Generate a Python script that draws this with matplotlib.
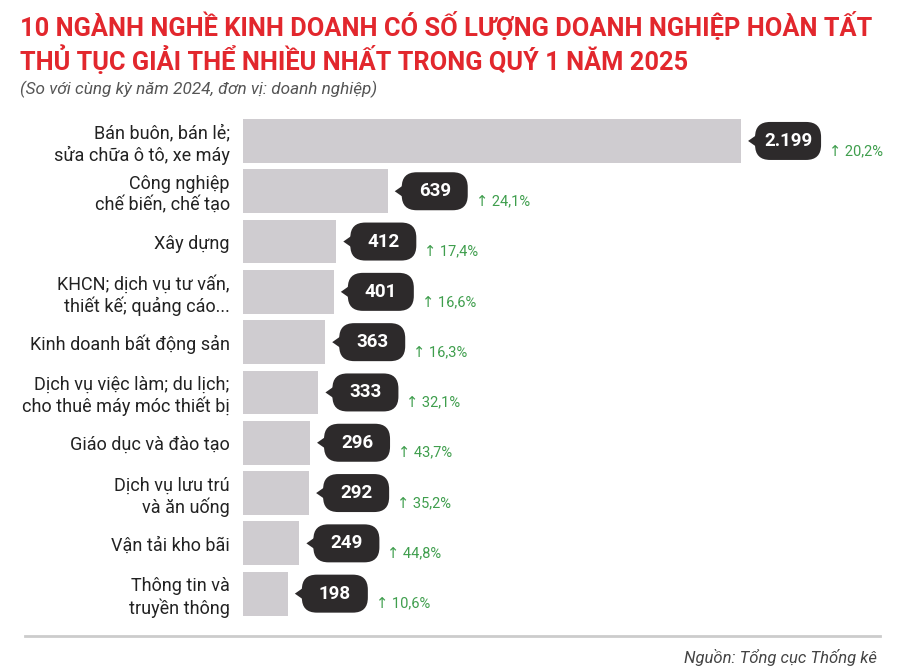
import matplotlib.pyplot as plt
import matplotlib.transforms as mtransforms
from matplotlib.patches import FancyBboxPatch, Polygon
import matplotlib.lines as mlines

plt.rcParams['font.family'] = ['Roboto', 'DejaVu Sans']

labels = ['Bán buôn, bán lẻ;\nsửa chữa ô tô, xe máy',
          'Công nghiệp\nchế biến, chế tạo',
          'Xây dựng',
          'KHCN; dịch vụ tư vấn,\nthiết kế; quảng cáo...',
          'Kinh doanh bất động sản',
          'Dịch vụ việc làm; du lịch;\ncho thuê máy móc thiết bị',
          'Giáo dục và đào tạo',
          'Dịch vụ lưu trú\nvà ăn uống',
          'Vận tải kho bãi',
          'Thông tin và\ntruyền thông']
values = [2199, 639, 412, 401, 363, 333, 296, 292, 249, 198]
value_text = ['2.199', '639', '412', '401', '363', '333', '296', '292', '249', '198']
growth = ['20,2%', '24,1%', '17,4%', '16,6%', '16,3%', '32,1%', '43,7%', '35,2%', '44,8%', '10,6%']

bar_col = '#cfccd0'
bubble_col = '#2d2a2b'
green = '#3f9e4d'
red = '#e2272d'

fig = plt.figure(figsize=(9, 6.72), dpi=100)
ax = fig.add_axes([243/900, 1-618.8/672, 637/900, 503/672])

ypos = list(range(len(values)))
ax.barh(ypos, values, height=0.87, color=bar_col)
ax.set_xlim(0, 637/0.2265)
ax.set_ylim(9.5, -0.5)
ax.set_yticks(ypos)
ax.set_yticklabels(labels, fontsize=13, color='#222222', linespacing=1.2)
ax.tick_params(axis='y', length=0, pad=9.5)
ax.set_xticks([])
for s in ax.spines.values():
    s.set_visible(False)

# bubbles drawn in pixel units, anchored at the end of each bar
bw, bh, gap = 66, 38, 14
for i, v in enumerate(values):
    tr = mtransforms.ScaledTranslation(v, i, ax.transData)
    box = FancyBboxPatch((gap, -bh/2), bw, bh,
                         boxstyle='round,pad=0,rounding_size=15',
                         fc=bubble_col, ec='none', transform=tr, clip_on=False)
    ax.add_patch(box)
    tip = Polygon([(gap-7, 0), (gap+3, 7), (gap+3, -7)], closed=True,
                  fc=bubble_col, ec='none', transform=tr, clip_on=False)
    ax.add_patch(tip)
    ax.annotate(value_text[i], xy=(v, i), xytext=(gap + bw/2, 0),
                textcoords='offset pixels', ha='center', va='center',
                color='white', fontsize=13.5, fontweight='bold')
    ax.annotate('↑ ' + growth[i], xy=(v, i), xytext=(gap + bw + 8, -10),
                textcoords='offset pixels', ha='left', va='center',
                color=green, fontsize=10.5)

fig.text(20/900, 1-27/672, '10 NGÀNH NGHỀ KINH DOANH CÓ SỐ LƯỢNG DOANH NGHIỆP HOÀN TẤT',
         color=red, fontsize=18.3, fontweight='bold', ha='left', va='center')
fig.text(20/900, 1-60/672, 'THỦ TỤC GIẢI THỂ NHIỀU NHẤT TRONG QUÝ 1 NĂM 2025',
         color=red, fontsize=18.3, fontweight='bold', ha='left', va='center')
fig.text(20/900, 1-89/672, '(So với cùng kỳ năm 2024, đơn vị: doanh nghiệp)',
         color='#555555', fontsize=12.3, style='italic', ha='left', va='center')

fig.add_artist(mlines.Line2D([25/900, 880/900], [1-636/672, 1-636/672],
                             color='#cccccc', lw=2, transform=fig.transFigure))
fig.text(877/900, 1-657/672, 'Nguồn: Tổng cục Thống kê', color='#444444',
         fontsize=12, style='italic', ha='right', va='center')

fig.savefig('out.png', dpi=100, facecolor='white')
